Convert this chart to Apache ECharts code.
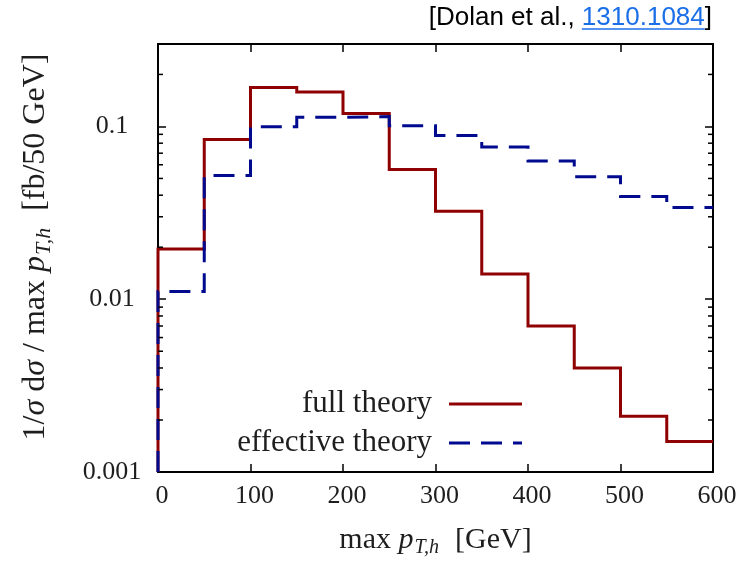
<!DOCTYPE html>
<html>
<head>
<meta charset="utf-8">
<script src="https://cdn.jsdelivr.net/npm/echarts@6/dist/echarts.min.js"></script>
<style>
  html, body { margin: 0; padding: 0; background: #fff; }
  #chart { width: 743px; height: 563px; }
</style>
</head>
<body>
<div id="chart"></div>
<script>
// Bin edges of the max p_T,h histogram [GeV]
const binEdges = [0, 50, 100, 150, 200, 250, 300, 350, 400, 450, 500, 550, 600];
// 1/sigma dsigma/dmax p_T,h per 50 GeV bin
const fullTheory = [0.0195, 0.084, 0.168, 0.158, 0.119, 0.0564, 0.0323, 0.0140, 0.0070, 0.0040, 0.0021, 0.0015];
const effectiveTheory = [0.0111, 0.052, 0.0995, 0.113, 0.114, 0.101, 0.0887, 0.076, 0.063, 0.0512, 0.0393, 0.034];
// Axis ranges and tick values
const xTicks = [0, 100, 200, 300, 400, 500, 600];
const yMin = 0.001, yMax = 0.3;
const yMajorTicks = [0.001, 0.01, 0.1];
const yMinorTicks = [0.002, 0.003, 0.004, 0.005, 0.006, 0.007, 0.008, 0.009,
                     0.02, 0.03, 0.04, 0.05, 0.06, 0.07, 0.08, 0.09, 0.2];
const legendNames = ['full theory', 'effective theory'];

const RED = '#8f0000';
const BLUE = '#000a8f';
const INK = '#1e1e1e';
const SERIF = '"Liberation Serif", "DejaVu Serif", serif';

// Turn per-bin values into a step outline rising from the axis floor at x = 0
function stepOutline(values) {
  const pts = [[binEdges[0], yMin]];
  values.forEach((v, i) => {
    pts.push([binEdges[i], v]);
    pts.push([binEdges[i + 1], v]);
  });
  return pts;
}

function isMajor(v) {
  return yMajorTicks.some(t => Math.abs(t - v) / t < 1e-6);
}

function richFor(size) {
  return {
    r: { fontFamily: SERIF, fontSize: size, color: INK, lineHeight: 40, verticalAlign: 'middle' },
    i: { fontFamily: SERIF, fontSize: size, fontStyle: 'italic', color: INK, lineHeight: 40, verticalAlign: 'middle' },
    s: { fontFamily: SERIF, fontSize: Math.round(size * 0.68), fontStyle: 'italic', color: INK, lineHeight: 40,
         verticalAlign: 'middle', padding: [16, 1, 0, 1] }
  };
}

const chart = echarts.init(document.getElementById('chart'), null, { renderer: 'canvas' });

const axisLine = { show: true, onZero: false, lineStyle: { color: '#000', width: 2 } };
const tick = { show: true, inside: true, length: 8, lineStyle: { color: '#000', width: 1.5 } };

// Measure the reference link so it can be underlined
const topFont = '26px "Liberation Sans", Arial, sans-serif';
const mctx = document.createElement('canvas').getContext('2d');
mctx.font = topFont;
const wBracket = mctx.measureText(']').width;
const wLink = mctx.measureText('1310.1084').width;
const topRight = 712, topY = 18;

chart.setOption({
  animation: false,
  backgroundColor: '#fff',
  grid: { left: 158, top: 44, width: 555, height: 428, containLabel: false },
  xAxis: [
    {
      type: 'value', min: 0, max: 600, interval: 100, position: 'bottom',
      axisLine: axisLine, axisTick: tick,
      axisLabel: { show: true, margin: 11, padding: [0, 0, 0, 8], fontFamily: SERIF, fontSize: 26, color: INK,
        formatter: v => xTicks.includes(v) ? String(v) : '' },
      splitLine: { show: false },
      name: '{r|max }{i|p}{s|T,h}{r|  [GeV]}',
      nameLocation: 'middle', nameGap: 48,
      nameTextStyle: { rich: richFor(30) }
    },
    {
      type: 'value', min: 0, max: 600, interval: 100, position: 'top',
      axisLine: axisLine, axisTick: tick,
      axisLabel: { show: false }, splitLine: { show: false }
    }
  ],
  yAxis: [
    {
      type: 'log', logBase: 10, min: yMin, max: yMax, position: 'left',
      axisLine: axisLine, axisTick: tick,
      axisLabel: { show: true, margin: 46, align: 'center', fontFamily: SERIF, fontSize: 26, color: INK,
        formatter: v => isMajor(v) ? String(+v.toPrecision(1)) : '' },
      splitLine: { show: false },
      name: '{r|1/}{i|σ}{r| d}{i|σ}{r| / max }{i|p}{s|T,h}{r|  [fb/50 GeV]}',
      nameLocation: 'middle', nameGap: 102,
      nameTextStyle: { rich: richFor(32), padding: [0, 0, 0, 22] }
    },
    {
      type: 'log', logBase: 10, min: yMin, max: yMax, position: 'right',
      axisLine: axisLine, axisTick: tick,
      axisLabel: { show: false }, splitLine: { show: false }
    }
  ],
  series: [
    {
      name: legendNames[0], type: 'line', xAxisIndex: 0, yAxisIndex: 0,
      data: stepOutline(fullTheory), showSymbol: false, clip: false, z: 3,
      lineStyle: { color: RED, width: 3, join: 'miter' }
    },
    {
      name: legendNames[1], type: 'line', xAxisIndex: 0, yAxisIndex: 0,
      data: stepOutline(effectiveTheory), showSymbol: false, clip: false, z: 4,
      lineStyle: { color: BLUE, width: 3, type: [21, 11], join: 'miter' }
    },
    {
      // minor log ticks on the left and right frame
      type: 'custom', xAxisIndex: 0, yAxisIndex: 0, silent: true, clip: false, z: 5,
      data: yMinorTicks.map(v => [0, v]),
      renderItem: (params, api) => {
        const v = api.value(1);
        const l = api.coord([0, v]);
        const r = api.coord([600, v]);
        const style = { stroke: '#000', lineWidth: 1.5 };
        return {
          type: 'group',
          children: [
            { type: 'line', shape: { x1: l[0], y1: l[1], x2: l[0] + 5, y2: l[1] }, style },
            { type: 'line', shape: { x1: r[0] - 5, y1: r[1], x2: r[0], y2: r[1] }, style }
          ]
        };
      }
    }
  ],
  graphic: [
    // key
    { type: 'text', x: 432, y: 404, style: { text: legendNames[0], fontFamily: SERIF, fontSize: 31, fill: INK, align: 'right', verticalAlign: 'middle' } },
    { type: 'text', x: 432, y: 443, style: { text: legendNames[1], fontFamily: SERIF, fontSize: 31, fill: INK, align: 'right', verticalAlign: 'middle' } },
    { type: 'line', shape: { x1: 449, y1: 404, x2: 522, y2: 404 }, style: { stroke: RED, lineWidth: 3 } },
    { type: 'line', shape: { x1: 449, y1: 443, x2: 522, y2: 443 }, style: { stroke: BLUE, lineWidth: 3, lineDash: [21, 11] } },
    // citation
    { type: 'text', x: topRight, y: topY, style: {
        text: '{a|[Dolan et al., }{b|1310.1084}{a|]}', align: 'right', verticalAlign: 'middle',
        rich: {
          a: { font: topFont, fill: '#000' },
          b: { font: topFont, fill: '#1a6ee8' }
        } } },
    { type: 'line', shape: { x1: topRight - wBracket - wLink, y1: topY + 11, x2: topRight - wBracket, y2: topY + 11 },
      style: { stroke: '#1a6ee8', lineWidth: 1.5 } }
  ]
});
</script>
</body>
</html>
